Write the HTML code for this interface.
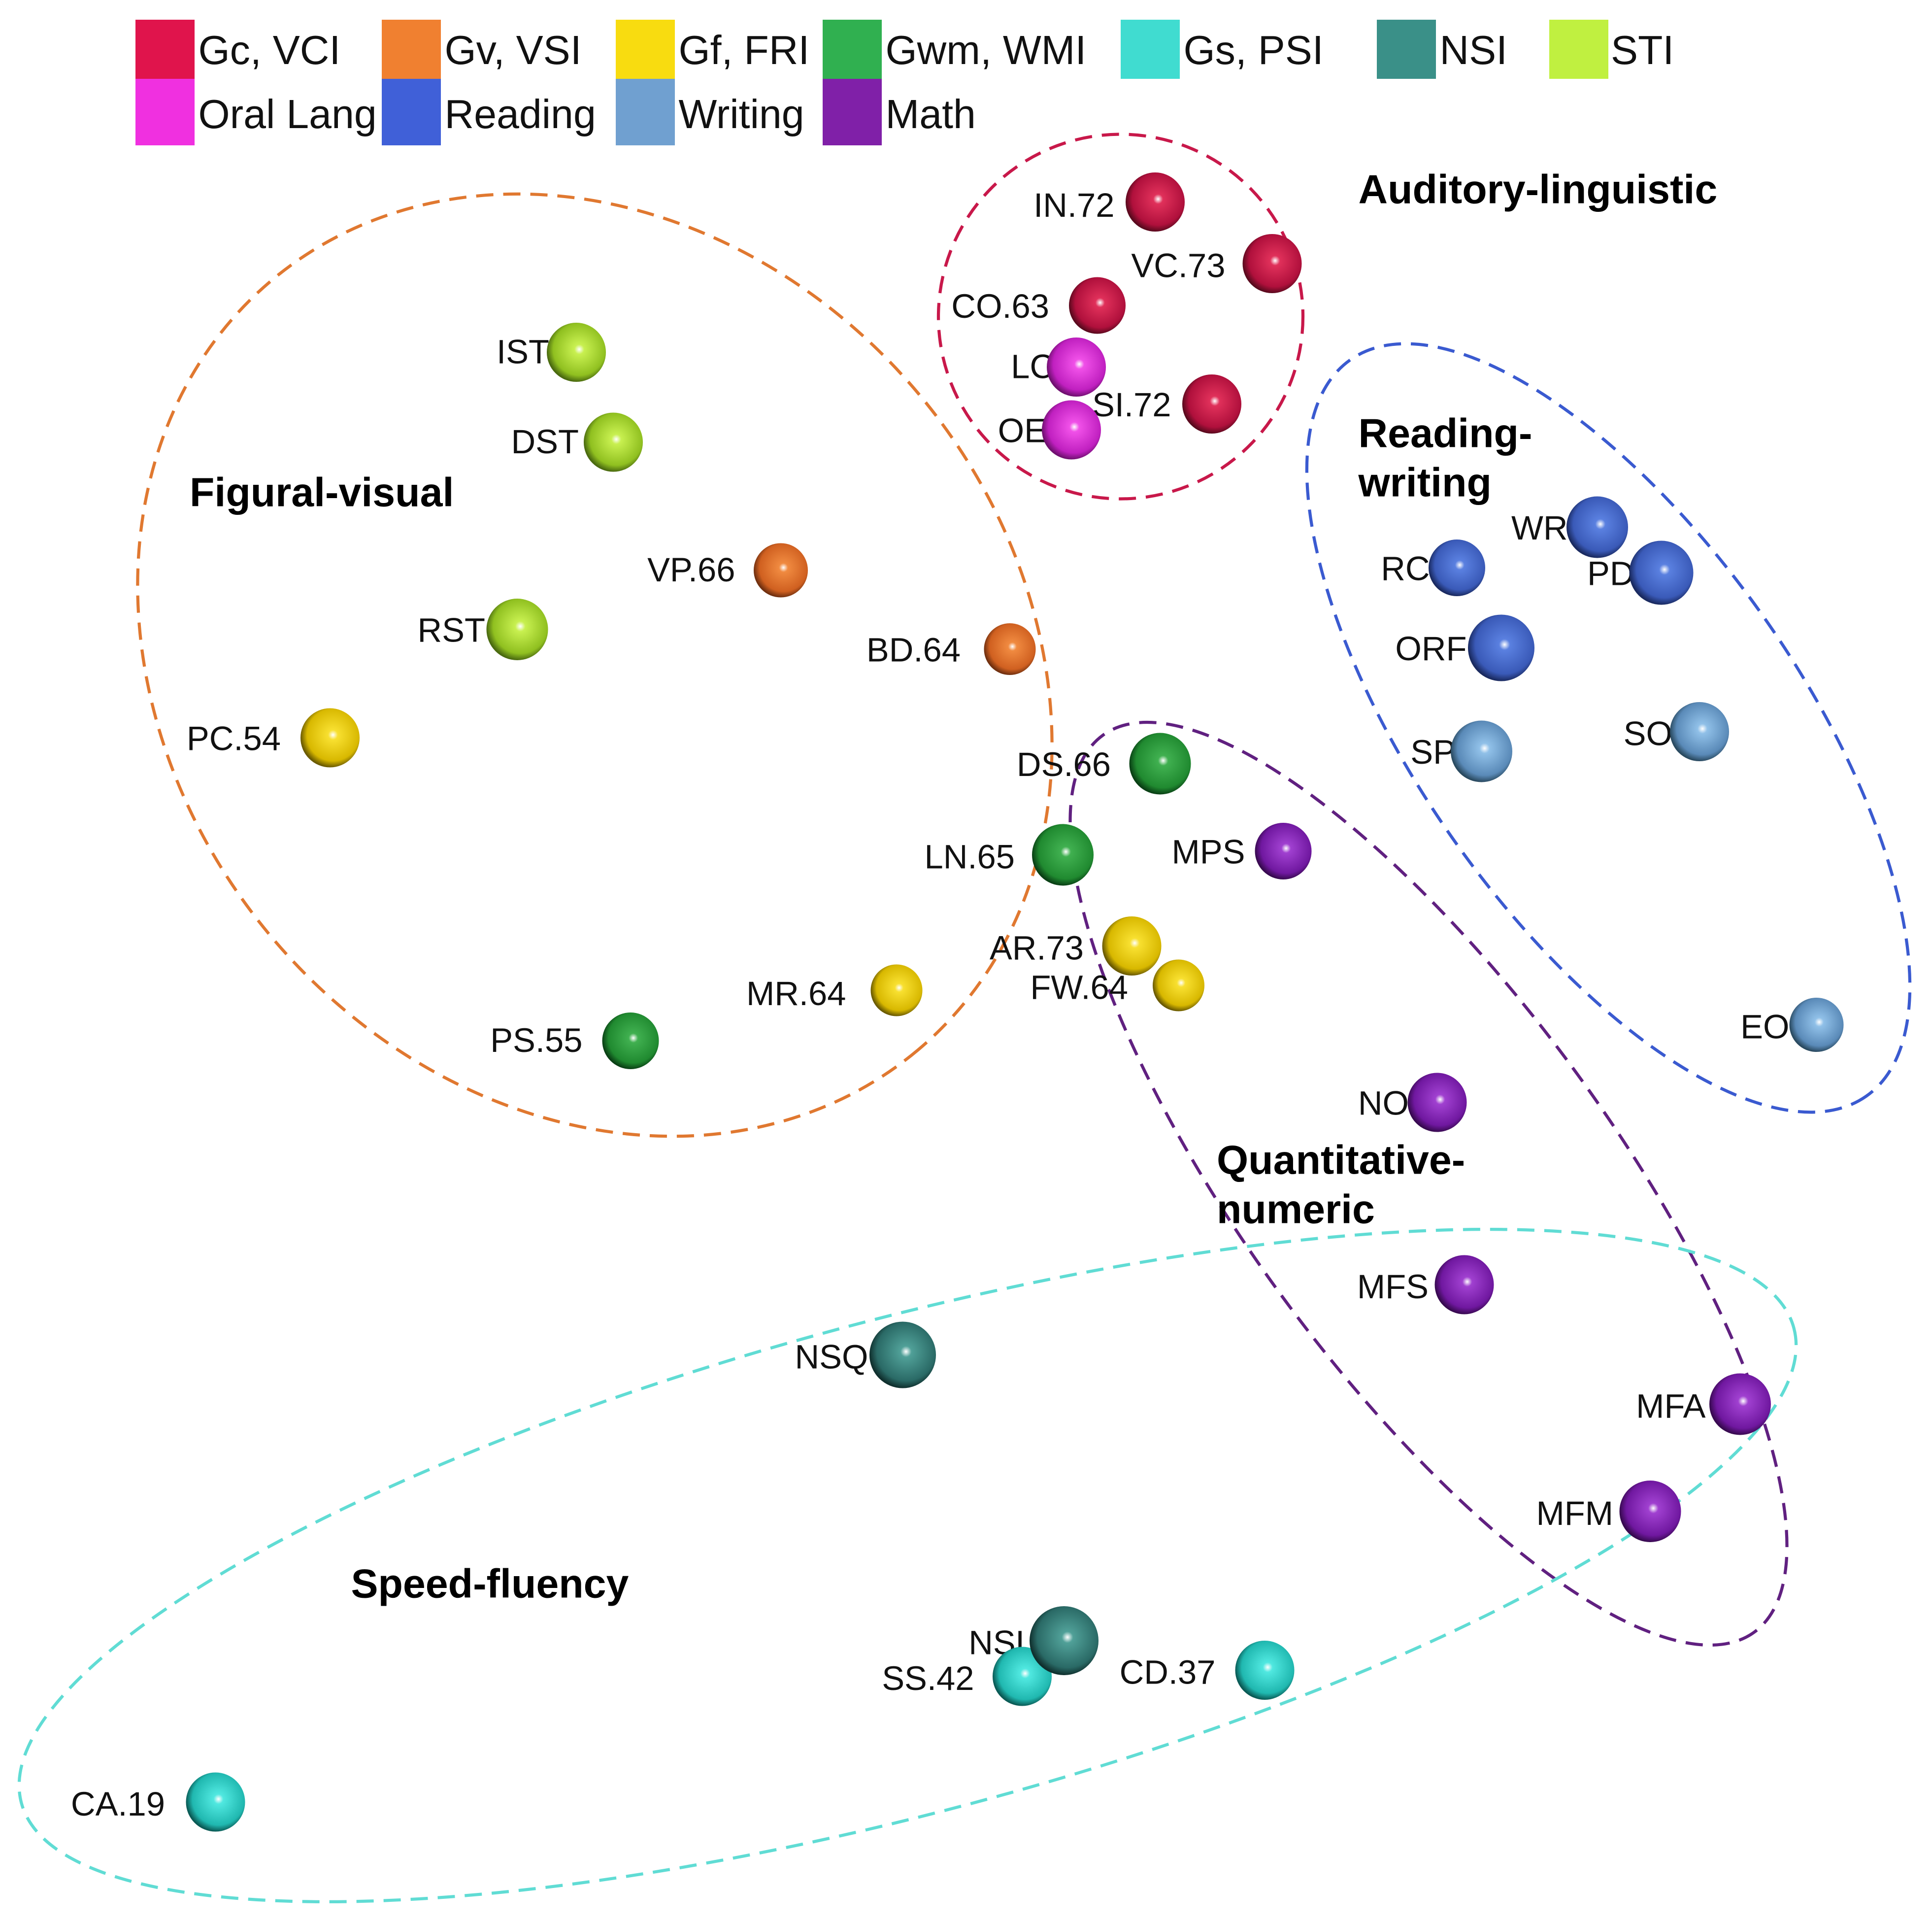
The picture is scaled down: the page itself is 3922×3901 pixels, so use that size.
<!DOCTYPE html>
<html><head><meta charset="utf-8"><style>
html,body{margin:0;padding:0;background:#fff;overflow:hidden;width:3922px;height:3901px;}
svg{display:block;}
text{font-family:"Liberation Sans",Arial,sans-serif;}
.l{font-size:27.5px;fill:#111;}
.g{font-size:33px;font-weight:bold;fill:#000;}
.lg{font-size:33px;fill:#111;}
</style></head><body>
<svg width="3922" height="3901" viewBox="0 0 1568.8 1560.4" xmlns="http://www.w3.org/2000/svg">
<defs>
<radialGradient id="red" cx="55%" cy="45%" r="55%"><stop offset="0" stop-color="#fff"/><stop offset="0.15" stop-color="#e0305a"/><stop offset="0.8" stop-color="#b0103c"/><stop offset="1" stop-color="#5a0a1e"/></radialGradient>
<radialGradient id="mag" cx="55%" cy="45%" r="55%"><stop offset="0" stop-color="#fff"/><stop offset="0.15" stop-color="#f050e8"/><stop offset="0.8" stop-color="#c020c0"/><stop offset="1" stop-color="#701070"/></radialGradient>
<radialGradient id="lime" cx="55%" cy="45%" r="55%"><stop offset="0" stop-color="#fff"/><stop offset="0.15" stop-color="#c8f050"/><stop offset="0.8" stop-color="#90c020"/><stop offset="1" stop-color="#4a6a10"/></radialGradient>
<radialGradient id="ora" cx="55%" cy="45%" r="55%"><stop offset="0" stop-color="#fff"/><stop offset="0.15" stop-color="#f08a40"/><stop offset="0.8" stop-color="#d06020"/><stop offset="1" stop-color="#703010"/></radialGradient>
<radialGradient id="yel" cx="55%" cy="45%" r="55%"><stop offset="0" stop-color="#fff"/><stop offset="0.15" stop-color="#f8e030"/><stop offset="0.8" stop-color="#d8b800"/><stop offset="1" stop-color="#6a5a00"/></radialGradient>
<radialGradient id="grn" cx="55%" cy="45%" r="55%"><stop offset="0" stop-color="#fff"/><stop offset="0.15" stop-color="#40b050"/><stop offset="0.8" stop-color="#208a30"/><stop offset="1" stop-color="#0a4015"/></radialGradient>
<radialGradient id="pur" cx="55%" cy="45%" r="55%"><stop offset="0" stop-color="#fff"/><stop offset="0.15" stop-color="#a040d0"/><stop offset="0.8" stop-color="#7018a0"/><stop offset="1" stop-color="#380a50"/></radialGradient>
<radialGradient id="blu" cx="55%" cy="45%" r="55%"><stop offset="0" stop-color="#fff"/><stop offset="0.15" stop-color="#5a80e0"/><stop offset="0.8" stop-color="#3a5ab8"/><stop offset="1" stop-color="#1a2a60"/></radialGradient>
<radialGradient id="lbl" cx="55%" cy="45%" r="55%"><stop offset="0" stop-color="#fff"/><stop offset="0.15" stop-color="#90c0e8"/><stop offset="0.8" stop-color="#5a8ab8"/><stop offset="1" stop-color="#2a4a60"/></radialGradient>
<radialGradient id="tur" cx="55%" cy="45%" r="55%"><stop offset="0" stop-color="#fff"/><stop offset="0.15" stop-color="#50e8e0"/><stop offset="0.8" stop-color="#20b8b0"/><stop offset="1" stop-color="#0a5a55"/></radialGradient>
<radialGradient id="tea" cx="55%" cy="45%" r="55%"><stop offset="0" stop-color="#fff"/><stop offset="0.15" stop-color="#50a098"/><stop offset="0.8" stop-color="#2a6a66"/><stop offset="1" stop-color="#10302e"/></radialGradient>
</defs>

<!-- legend -->
<rect x="110" y="16" width="48" height="48" fill="#e0144c"/><text class="lg" x="161" y="52">Gc, VCI</text>
<rect x="310" y="16" width="48" height="48" fill="#f08030"/><text class="lg" x="361" y="52">Gv, VSI</text>
<rect x="500" y="16" width="48" height="48" fill="#f8dc10"/><text class="lg" x="551" y="52">Gf, FRI</text>
<rect x="668" y="16" width="48" height="48" fill="#30b050"/><text class="lg" x="719" y="52">Gwm, WMI</text>
<rect x="910" y="16" width="48" height="48" fill="#40dcd0"/><text class="lg" x="961" y="52">Gs, PSI</text>
<rect x="1118" y="16" width="48" height="48" fill="#3a9088"/><text class="lg" x="1169" y="52">NSI</text>
<rect x="1258" y="16" width="48" height="48" fill="#c0f040"/><text class="lg" x="1308" y="52">STI</text>
<rect x="110" y="64" width="48" height="54" fill="#f030e0"/><text class="lg" x="161" y="104">Oral Lang</text>
<rect x="310" y="64" width="48" height="54" fill="#4060d8"/><text class="lg" x="361" y="104">Reading</text>
<rect x="500" y="64" width="48" height="54" fill="#70a0d0"/><text class="lg" x="551" y="104">Writing</text>
<rect x="668" y="64" width="48" height="54" fill="#8020a8"/><text class="lg" x="719" y="104">Math</text>

<!-- ellipses -->
<g fill="none" stroke-width="2.5" stroke-dasharray="14 8">
<circle cx="910" cy="257" r="148" stroke="#c8184a"/>
<ellipse cx="483" cy="540" rx="408" ry="343" transform="rotate(50 483 540)" stroke="#e07830"/>
<ellipse cx="1306" cy="591" rx="365" ry="155" transform="rotate(55 1306 591)" stroke="#3a5ad0"/>
<ellipse cx="1160" cy="961" rx="450" ry="150" transform="rotate(54 1160 961)" stroke="#602080"/>
<ellipse cx="737" cy="1271" rx="745" ry="200" transform="rotate(-15 737 1271)" stroke="#60dcd4"/>
</g>

<!-- group labels -->
<text class="g" x="1103" y="165">Auditory-linguistic</text>
<text class="g" x="154" y="411">Figural-visual</text>
<text class="g" x="1103" y="363">Reading-</text>
<text class="g" x="1103" y="403">writing</text>
<text class="g" x="988" y="953">Quantitative-</text>
<text class="g" x="988" y="993">numeric</text>
<text class="g" x="285" y="1297">Speed-fluency</text>

<!-- labels -->
<g class="l" text-anchor="end">
<text x="905" y="176">IN.72</text>
<text x="995" y="225">VC.73</text>
<text x="852" y="258">CO.63</text>
<text x="856" y="307">LC</text>
<text x="850" y="359">OE</text>
<text x="951" y="338">SI.72</text>
<text x="446" y="295">IST</text>
<text x="470" y="368">DST</text>
<text x="597" y="472">VP.66</text>
<text x="394" y="521">RST</text>
<text x="780" y="537">BD.64</text>
<text x="228" y="609">PC.54</text>
<text x="902" y="630">DS.66</text>
<text x="824" y="705">LN.65</text>
<text x="1011" y="701">MPS</text>
<text x="880" y="779">AR.73</text>
<text x="916" y="811">FW.64</text>
<text x="687" y="816">MR.64</text>
<text x="473" y="854">PS.55</text>
<text x="1273" y="438">WR</text>
<text x="1161" y="471">RC</text>
<text x="1327" y="475">PD</text>
<text x="1191" y="536">ORF</text>
<text x="1182" y="620">SP</text>
<text x="1358" y="605">SO</text>
<text x="1453" y="843">EO</text>
<text x="1144" y="905">NO</text>
<text x="1160" y="1054">MFS</text>
<text x="1385" y="1151">MFA</text>
<text x="1310" y="1238">MFM</text>
<text x="705" y="1111">NSQ</text>
<text x="840" y="1343">NSL</text>
<text x="791" y="1372">SS.42</text>
<text x="987" y="1367">CD.37</text>
<text x="134" y="1474">CA.19</text>
</g>

<!-- spheres -->
<circle cx="938" cy="164" r="24" fill="url(#red)"/>
<circle cx="1033" cy="214" r="24" fill="url(#red)"/>
<circle cx="891" cy="248" r="23" fill="url(#red)"/>
<circle cx="984" cy="328" r="24" fill="url(#red)"/>
<circle cx="874" cy="298" r="24" fill="url(#mag)"/>
<circle cx="870" cy="349" r="24" fill="url(#mag)"/>
<circle cx="468" cy="286" r="24" fill="url(#lime)"/>
<circle cx="498" cy="359" r="24" fill="url(#lime)"/>
<circle cx="634" cy="463" r="22" fill="url(#ora)"/>
<circle cx="420" cy="511" r="25" fill="url(#lime)"/>
<circle cx="820" cy="527" r="21" fill="url(#ora)"/>
<circle cx="268" cy="599" r="24" fill="url(#yel)"/>
<circle cx="942" cy="620" r="25" fill="url(#grn)"/>
<circle cx="863" cy="694" r="25" fill="url(#grn)"/>
<circle cx="1042" cy="691" r="23" fill="url(#pur)"/>
<circle cx="919" cy="768" r="24" fill="url(#yel)"/>
<circle cx="957" cy="800" r="21" fill="url(#yel)"/>
<circle cx="728" cy="804" r="21" fill="url(#yel)"/>
<circle cx="512" cy="845" r="23" fill="url(#grn)"/>
<circle cx="1297" cy="428" r="25" fill="url(#blu)"/>
<circle cx="1183" cy="461" r="23" fill="url(#blu)"/>
<circle cx="1349" cy="465" r="26" fill="url(#blu)"/>
<circle cx="1219" cy="526" r="27" fill="url(#blu)"/>
<circle cx="1203" cy="610" r="25" fill="url(#lbl)"/>
<circle cx="1380" cy="594" r="24" fill="url(#lbl)"/>
<circle cx="1475" cy="832" r="22" fill="url(#lbl)"/>
<circle cx="1167" cy="895" r="24" fill="url(#pur)"/>
<circle cx="1189" cy="1043" r="24" fill="url(#pur)"/>
<circle cx="1413" cy="1140" r="25" fill="url(#pur)"/>
<circle cx="1340" cy="1227" r="25" fill="url(#pur)"/>
<circle cx="733" cy="1100" r="27" fill="url(#tea)"/>
<circle cx="830" cy="1361" r="24" fill="url(#tur)"/>
<circle cx="864" cy="1332" r="28" fill="url(#tea)"/>
<circle cx="1027" cy="1356" r="24" fill="url(#tur)"/>
<circle cx="175" cy="1463" r="24" fill="url(#tur)"/>
</svg>
</body></html>
